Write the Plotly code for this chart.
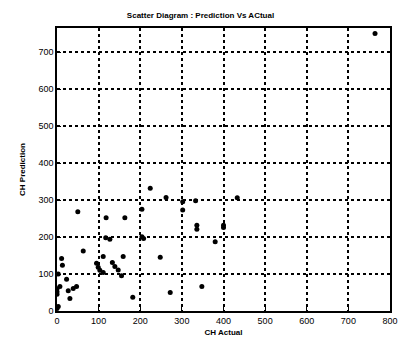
import plotly.graph_objects as go

actual = [0, 0, 0, 0, 3, 3, 7, 11, 13, 23, 27, 31, 39, 47, 50, 63, 95, 99, 103, 111, 111,
          118, 117, 127, 133, 139, 147, 155, 159, 163, 182, 204, 204, 208, 224, 248, 262,
          272, 302, 302, 333, 336, 336, 348, 380, 400, 400, 433, 764]
predicted = [45, 52, 60, 7, 12, 100, 66, 142, 124, 86, 55, 34, 61, 66, 268, 162, 129, 118,
             110, 104, 147, 252, 198, 194, 131, 120, 111, 95, 147, 252, 37, 275, 201, 196,
             332, 145, 307, 50, 295, 273, 298, 232, 221, 66, 187, 232, 226, 306, 750]

title = "Scatter Diagram : Prediction Vs ACtual"
xlabel = "CH Actual"
ylabel = "CH Prediction"

fig = go.Figure(go.Scatter(x=actual, y=predicted, mode="markers",
                           marker=dict(color="black", size=5)))

fnt = dict(family="Liberation Sans, Arial, sans-serif", color="black")
axis_common = dict(showline=True, linecolor="black", linewidth=1.5, mirror=True,
                   ticks="inside", ticklen=4, tickcolor="black", dtick=100,
                   showgrid=True, gridcolor="black", gridwidth=1.5, griddash="dot",
                   zeroline=False, automargin=False, tickfont=dict(size=9, **fnt))
fig.update_layout(
    width=401, height=341, margin=dict(l=57, r=11, t=28, b=30),
    paper_bgcolor="white", plot_bgcolor="white", showlegend=False,
    title=dict(text=f"<b>{title}</b>", x=0.5, xanchor="center", y=0.955, yanchor="middle",
               font=dict(size=8, **fnt)),
    xaxis=dict(range=[0, 800], title=dict(text=f"<b>{xlabel}</b>", font=dict(size=8, **fnt), standoff=5),
               **axis_common),
    yaxis=dict(range=[0, 765], title=dict(text=f"<b>{ylabel}</b>", font=dict(size=8, **fnt), standoff=12),
               **axis_common),
)
fig.write_html("out.html")
